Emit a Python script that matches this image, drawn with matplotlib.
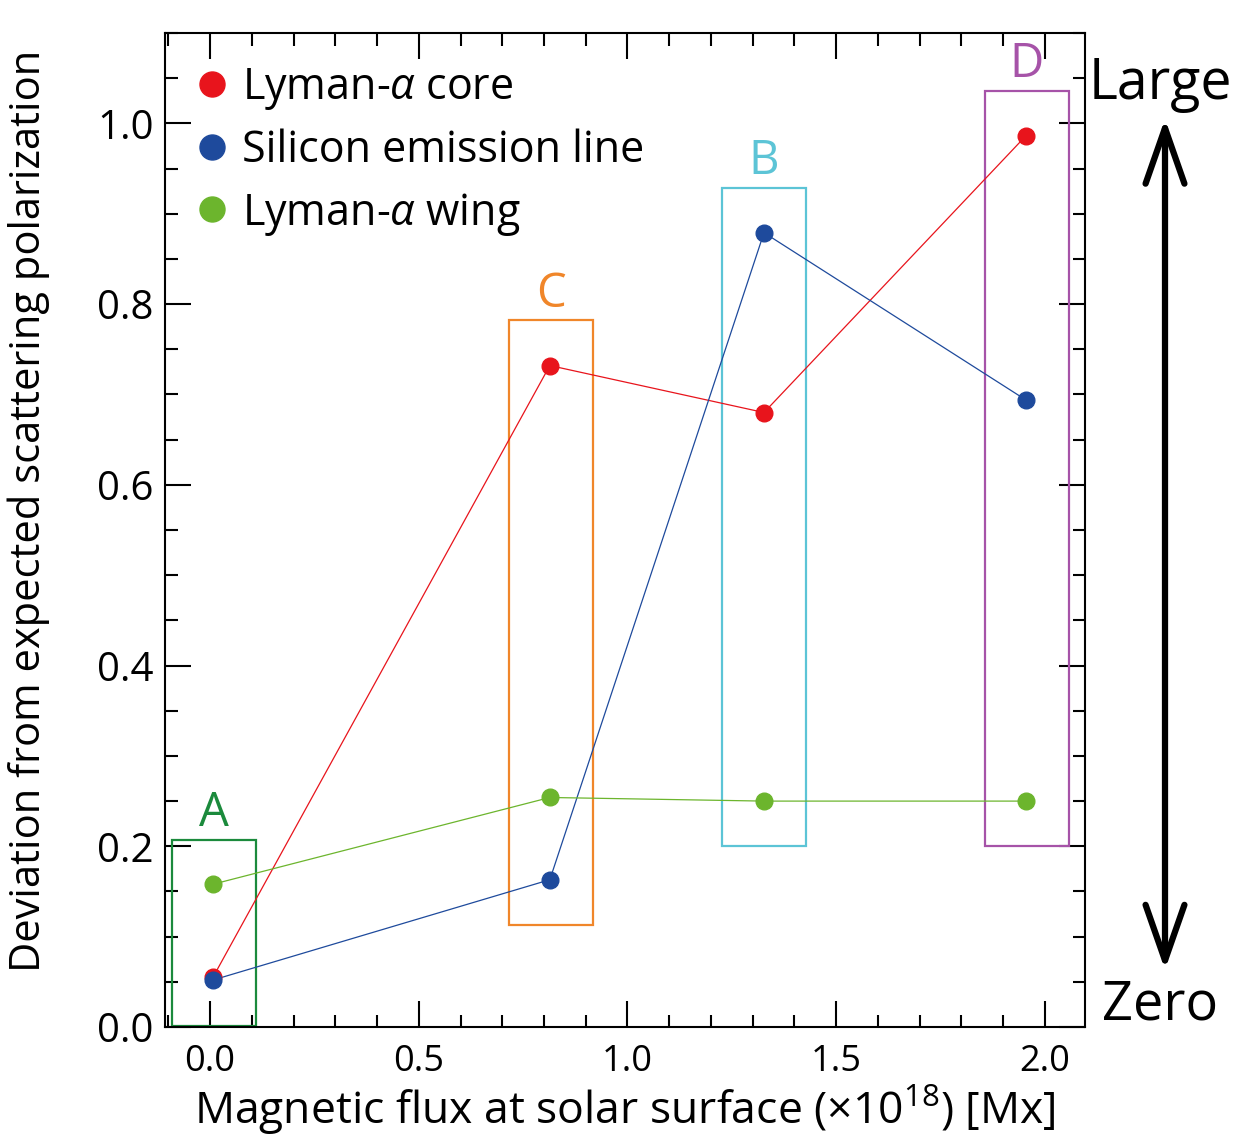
import numpy as np
import matplotlib.pyplot as plt
from matplotlib.patches import Rectangle, FancyArrowPatch
from matplotlib.ticker import MultipleLocator

plt.rcParams['font.family'] = ['Open Sans', 'DejaVu Sans']
plt.rcParams['mathtext.fontset'] = 'custom'
plt.rcParams['mathtext.rm'] = 'Open Sans'
plt.rcParams['mathtext.it'] = 'Open Sans:italic'

# data
flux = [0.007, 0.814, 1.327, 1.954]
lya_core = [0.055, 0.732, 0.680, 0.986]
silicon = [0.052, 0.163, 0.879, 0.694]
lya_wing = [0.158, 0.254, 0.250, 0.250]

series_names = [r'Lyman-$\alpha$ core', 'Silicon emission line', r'Lyman-$\alpha$ wing']
series_colors = ['#e8141c', '#1e4a9c', '#6cb52d']

# highlighted groups
box_labels = ['A', 'C', 'B', 'D']
box_x0 = [-0.091, 0.716, 1.226, 1.856]
box_x1 = [0.110, 0.917, 1.428, 2.057]
box_y0 = [0.001, 0.113, 0.200, 0.200]
box_y1 = [0.207, 0.782, 0.929, 1.036]
box_colors = ['#1b8a3c', '#f0862a', '#5cc4d6', '#a653a8']

fig = plt.figure(figsize=(12.44, 11.41), dpi=100)
ax = fig.add_axes([0.1326, 0.0999, 0.7396, 0.8712])

for ys, name, c in zip([lya_core, silicon, lya_wing], series_names, series_colors):
    ax.plot(flux, ys, color=c, lw=0.9, zorder=3)
    ax.plot(flux, ys, 'o', color=c, ms=12, label=name, zorder=4)

for lab, x0, x1, y0, y1, c in zip(box_labels, box_x0, box_x1, box_y0, box_y1, box_colors):
    ax.add_patch(Rectangle((x0, y0), x1 - x0, y1 - y0, fill=False, ec=c, lw=1.6, zorder=2))
    ax.text((x0 + x1) / 2, y1 + 0.003, lab, color=c, fontsize=34,
            ha='center', va='bottom', zorder=5)

ax.set_xlim(-0.108, 2.096)
ax.set_ylim(0, 1.1)
ax.xaxis.set_major_locator(MultipleLocator(0.5))
ax.xaxis.set_minor_locator(MultipleLocator(0.1))
ax.yaxis.set_major_locator(MultipleLocator(0.2))
ax.yaxis.set_minor_locator(MultipleLocator(0.05))
ax.tick_params(which='both', direction='in', top=True, right=True, width=1.5)
ax.tick_params(which='major', length=19, pad=12)
ax.tick_params(which='minor', length=9)
ax.tick_params(axis='x', labelsize=26)
ax.tick_params(axis='y', labelsize=29, pad=8)
for s in ax.spines.values():
    s.set_linewidth(1.5)
ax.xaxis.set_major_formatter(plt.FormatStrFormatter('%.1f'))
ax.yaxis.set_major_formatter(plt.FormatStrFormatter('%.1f'))

ax.set_xlabel(r'Magnetic flux at solar surface (×10$^{18}$) [Mx]', fontsize=32, labelpad=2)
ax.set_ylabel('Deviation from expected scattering polarization', fontsize=30)
ax.yaxis.set_label_coords(-0.125, 0.519)

leg = ax.legend(loc='upper left', frameon=False, fontsize=31, handlelength=0.6,
                handletextpad=0.4, labelspacing=0.4, borderaxespad=0.0,
                markerscale=1.5, bbox_to_anchor=(0.018, 0.985))

fig.canvas.draw()
ax.yaxis.get_major_ticks()[0].label1.set_va('bottom')

# qualitative scale on the right
fig.text(0.9325, 0.926, 'Large', fontsize=40, ha='center', va='center')
fig.text(0.9325, 0.119, 'Zero', fontsize=39, ha='center', va='center')
fig.add_artist(FancyArrowPatch(
    (0.9365, 0.150), (0.9365, 0.896), transform=fig.transFigure,
    arrowstyle='<->,head_length=8,head_width=2.8', lw=4.5, color='black',
    mutation_scale=5, shrinkA=0, shrinkB=0))

fig.savefig('out.png', dpi=100)
